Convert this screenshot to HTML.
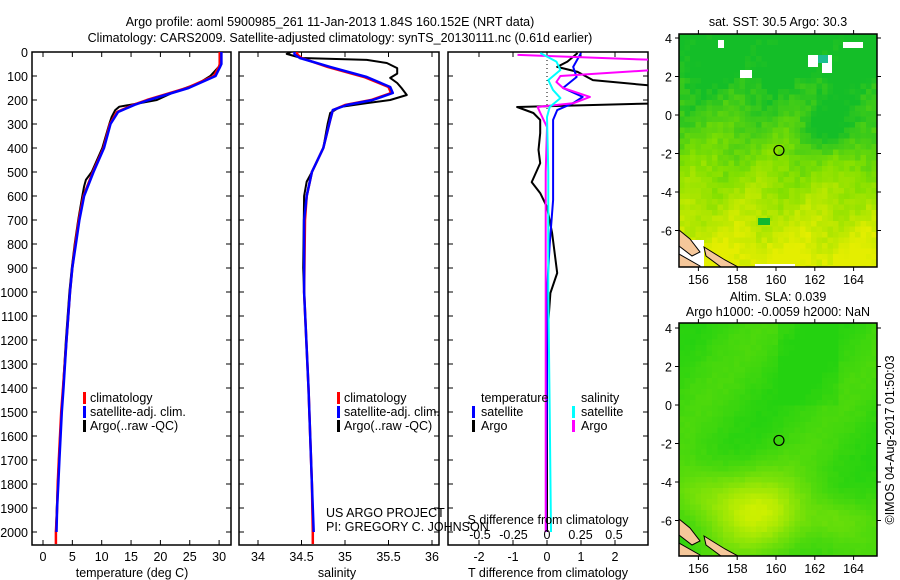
<!DOCTYPE html>
<html><head><meta charset="utf-8">
<style>
html,body{margin:0;padding:0;background:#fff;}
svg{display:block;font-family:"Liberation Sans",sans-serif;}
text{fill:#000;font-size:12.5px;}
</style></head>
<body>
<svg id="fig" width="900" height="580" viewBox="0 0 900 580" xmlns="http://www.w3.org/2000/svg">
<defs>
<clipPath id="c1"><rect x="32" y="52" width="199" height="493"/></clipPath>
<clipPath id="c2"><rect x="239" y="52" width="200" height="493"/></clipPath>
<clipPath id="c3"><rect x="448" y="52" width="200" height="493"/></clipPath>
<clipPath id="cm1"><rect x="679" y="34" width="198" height="233"/></clipPath>
<clipPath id="cm2"><rect x="679" y="323" width="198" height="233"/></clipPath>
</defs>
<text x="330" y="26" text-anchor="middle" font-size="13.5">Argo profile: aoml 5900985_261 11-Jan-2013 1.84S 160.152E (NRT data)</text>
<text x="340" y="42" text-anchor="middle" font-size="13.5">Climatology: CARS2009. Satellite-adjusted climatology: synTS_20130111.nc (0.61d earlier)</text>
<text x="778" y="26" text-anchor="middle">sat. SST: 30.5 Argo: 30.3</text>
<text x="778" y="301" text-anchor="middle">Altim. SLA: 0.039</text>
<text x="778" y="316" text-anchor="middle">Argo h1000: -0.0059 h2000: NaN</text>
<text transform="translate(894,440) rotate(-90)" text-anchor="middle" font-size="12">©IMOS 04-Aug-2017 01:50:03</text>
<g id="maps"></g>
<g id="panels"></g>
</svg>
<script>
// ---- data ----
const tDepth = [0,50,60,100,150,200,220,250,300,400,500,600,700,800,900,1000,1200,1400,1500,1600,1700,1800,1900,2000,2050];
const tClim  = [30.1,30.1,30,29.1,24.5,17.7,15.4,12.6,11.4,10.3,8.5,6.9,6.1,5.5,5.0,4.6,4.0,3.4,3.1,2.9,2.7,2.5,2.4,2.2,2.2];
const tSatDepth = [0,50,60,100,150,200,220,250,300,400,500,600,700,800,900,1000,1200,1400,1500,1600,1700,1800,1900,2000];
const tSat   = [30.4,30.4,30.2,29.4,24.8,18.0,15.6,12.8,11.5,10.4,8.6,7.0,6.2,5.6,5.0,4.6,4.0,3.5,3.2,3.0,2.8,2.6,2.4,2.3];
const tArgoDepth = [0,40,60,100,130,171,200,213,228,242,270,300,400,500,533,560,600,700,800,900,1000,1200,1400,1600,1800,2000];
const tArgo  = [30.3,30.3,30,28.5,26.5,22,19.4,16.5,13,12.3,11.7,11.3,10.1,8.3,7.3,7.0,6.7,6.0,5.4,4.9,4.5,3.9,3.4,2.9,2.5,2.2];
const sDepth = [0,10,25,62,104,146,171,200,221,242,283,400,500,600,700,1000,1400,1600,1800,2000,2050];
const sClim  = [34.45,34.45,34.5,34.8,35.22,35.5,35.53,35.3,35.0,34.86,34.83,34.75,34.62,34.56,34.54,34.53,34.58,34.6,34.62,34.63,34.63];
const sSatDepth = [0,10,25,62,104,146,171,200,221,242,283,400,500,600,700,1000,1400,1600,1800,2000];
const sSat   = [34.42,34.42,34.48,34.83,35.25,35.52,35.55,35.32,35.02,34.86,34.83,34.75,34.62,34.56,34.53,34.53,34.58,34.6,34.62,34.64];
const sArgoDepth = [0,8,15,25,33,46,67,90,108,129,150,179,200,213,229,254,300,400,500,540,600,900,1000,1400,1600,1800,2000];
const sArgo  = [34.38,34.33,34.4,34.5,35.25,35.48,35.6,35.6,35.52,35.6,35.65,35.71,35.52,35.25,34.94,34.83,34.8,34.75,34.62,34.56,34.53,34.52,34.53,34.58,34.6,34.62,34.63];
const dTsatDepth = [4,62,104,150,187,213,242,283,617,800,1000,1400,1800,2000];
const dTsat  = [1.0,0.77,0.87,0.47,1.05,0.77,0.3,0.18,0.18,0.08,0,0,-0.03,-0.03];
const dTargoDepth = [4,40,62,83,117,146,187,213,229,254,283,338,408,463,542,588,646,754,921,1004,1200,1400,1600,1800,2000];
const dTargo = [0.9,0.6,0.3,0.9,1.35,3.5,3.5,3.5,-0.88,-0.4,-0.2,-0.2,-0.25,-0.2,-0.45,-0.2,0,0.15,0.3,0.1,0,0,0,0,0];
const dSsatDepth = [4,40,75,117,158,192,229,271,500,1000,1500,2000];
const dSsat  = [-0.05,0.07,0.1,0.01,0.045,0.1,0.02,0,0.01,0.01,0.02,0.03];
const dSargoDepth = [12,33,75,100,125,150,187,213,229,254,313,500,1000,2000];
const dSargo = [-0.22,0.8,0.8,0.1,0.07,0.12,0.32,0.2,-0.07,-0.05,0,-0.01,-0.01,-0.01];
const depthTicks = [0,100,200,300,400,500,600,700,800,900,1000,1100,1200,1300,1400,1500,1600,1700,1800,1900,2000];
const tTicks = [0,5,10,15,20,25,30];
const sTicks = [34,34.5,35,35.5,36];
const dTTicks = [-2,-1,0,1,2];
const dSTicks = [-0.5,-0.25,0,0.25,0.5];
const latTicks = [4,2,0,-2,-4,-6];
const lonTicks = [156,158,160,162,164];

// ---- scales ----
const NS="http://www.w3.org/2000/svg";
const yD = d => 52 + 0.24*d;
const xT = v => 43 + 5.87*v;
const xS = v => 258 + 87*(v-34);
const xDT = v => 547 + 34*v;
const xDS = v => 547 + 134*v;
const lonX = v => 679 + 19.4*(v-155);
const latY1 = v => 115 - 19.25*v;
const latY2 = v => 405 - 19.25*v;

function el(tag, attrs, parent){const e=document.createElementNS(NS,tag);for(const k in attrs)e.setAttribute(k,attrs[k]);parent.appendChild(e);return e;}
const P=document.getElementById('panels');
const M=document.getElementById('maps');

function line(depths, vals, xf, color, w, clip, name){
  const pts=depths.map((d,i)=>xf(vals[i]).toFixed(1)+','+yD(d).toFixed(1)).join(' ');
  const e=el('polyline',{points:pts,fill:'none',stroke:color,'stroke-width':w,'clip-path':'url(#'+clip+')','stroke-linejoin':'round'},P);
  
  
}
function frame(x0,x1,name){
  const r=el('rect',{x:x0,y:52,width:x1-x0,height:493,fill:'none',stroke:'#000','stroke-width':1.5},P);
  
  
  depthTicks.forEach(d=>{
    el('line',{x1:x0,x2:x0+5,y1:yD(d),y2:yD(d),stroke:'#000'},P);
    el('line',{x1:x1-5,x2:x1,y1:yD(d),y2:yD(d),stroke:'#000'},P);
  });
}
function xticks(ticks,xf,labelY,name,fs){
  ticks.forEach(v=>{
    el('line',{x1:xf(v),x2:xf(v),y1:545,y2:540,stroke:'#000'},P);
    el('line',{x1:xf(v),x2:xf(v),y1:52,y2:57,stroke:'#000'},P);
    const t=el('text',{x:xf(v),y:labelY,'text-anchor':'middle'},P);
    if(fs) t.setAttribute('font-size',fs);
    t.textContent=String(v);
    
    
  });
}
function txt(x,y,s,name,anchor){
  const t=el('text',{x:x,y:y,'text-anchor':anchor||'start'},P);
  t.textContent=s;
  
  
  return t;
}
function legendMark(x,y,color){el('rect',{x:x,y:y-10,width:3,height:12,fill:color},P);}

depthTicks.forEach(d=>{
  const t=el('text',{x:28,y:yD(d)+5,'text-anchor':'end'},P);
  t.textContent=String(d);
  
  
});

frame(32,231,'temperature-panel-frame');
xticks(tTicks,xT,561,'temperature-tick-label');
line(tArgoDepth,tArgo,xT,'#000',2,'c1','argo-temperature-line');
line(tDepth,tClim,xT,'#f00',2.5,'c1','climatology-temperature-line');
line(tSatDepth,tSat,xT,'#00f',2.5,'c1','satellite-temperature-line');
txt(132,577,'temperature (deg C)','temperature-axis-title','middle');
legendMark(83,402,'#f00');txt(90,402,'climatology','legend-climatology');
legendMark(83,416,'#00f');txt(90,416,'satellite-adj. clim.','legend-satellite-adj');
legendMark(83,430,'#000');txt(90,430,'Argo(..raw -QC)','legend-argo');

frame(239,439,'salinity-panel-frame');
xticks(sTicks,xS,561,'salinity-tick-label');
line(sArgoDepth,sArgo,xS,'#000',2,'c2','argo-salinity-line');
line(sDepth,sClim,xS,'#f00',2.5,'c2','climatology-salinity-line');
line(sSatDepth,sSat,xS,'#00f',2.5,'c2','satellite-salinity-line');
txt(337,577,'salinity','salinity-axis-title','middle');
legendMark(337,402,'#f00');txt(344,402,'climatology','legend-climatology-2');
legendMark(337,416,'#00f');txt(344,416,'satellite-adj. clim.','legend-satellite-adj-2');
legendMark(337,430,'#000');txt(344,430,'Argo(..raw -QC)','legend-argo-2');
txt(326,517,'US ARGO PROJECT','us-argo-project-label');
txt(326,531,'PI: GREGORY C. JOHNSON','pi-label');

frame(448,648,'difference-panel-frame');
xticks(dTTicks,xDT,561,'t-diff-tick-label');
el('line',{x1:547,x2:547,y1:60,y2:110,stroke:'#000','stroke-dasharray':'1,3'},P);
line(dTargoDepth,dTargo,xDT,'#000',2,'c3','argo-t-diff-line');
line(dTsatDepth,dTsat,xDT,'#00f',2,'c3','satellite-t-diff-line');
line(dSargoDepth,dSargo,xDS,'#f0f',2,'c3','argo-s-diff-line');
line(dSsatDepth,dSsat,xDS,'#0ff',2,'c3','satellite-s-diff-line');
dSTicks.forEach(v=>{
  const t=el('text',{x:xDS(v),y:539,'text-anchor':'middle'},P);
  t.textContent=String(v);
  
  
});
txt(548,524,'S difference from climatology','s-diff-axis-title','middle');
txt(548,577,'T difference from climatology','t-diff-axis-title','middle');
txt(481,402,'temperature','legend-temperature-heading');
legendMark(472,416,'#00f');txt(481,416,'satellite','legend-t-satellite');
legendMark(472,430,'#000');txt(481,430,'Argo','legend-t-argo');
txt(581,402,'salinity','legend-salinity-heading');
legendMark(572,416,'#0ff');txt(581,416,'satellite','legend-s-satellite');
legendMark(572,430,'#f0f');txt(581,430,'Argo','legend-s-argo');

// ---- maps (imagery texture) ----
function mix(a,b,t){return a.map((v,i)=>Math.round(v+(b[i]-v)*t));}
function hash(i,j){const s=Math.sin(i*127.1+j*311.7)*43758.5453;return s-Math.floor(s);}
function drawMap(top,latY,clip,kind,name){
  const g=el('g',{'clip-path':'url(#'+clip+')'},M);
  
  
  const cs=kind==='sst'?5.5:5.5;
  let i=0;
  for(let y=top;y<top+233;y+=cs){
    i++; let j=0;
    for(let x=679;x<877;x+=cs){
      j++;
      const lat=(top===34?(115-y)/19.25:(405-y)/19.25);
      const lon=155+(x-679)/19.4;
      let c;
      if(kind==='sst'){
        let t=(2.2-lat)/9.5; t=Math.max(0,Math.min(1,t));
        t+=0.16*(hash(i,j)-0.5)+0.08*Math.sin(x*0.09+y*0.05);
        const dx=(lon-163)/1.8, dy=(lat+0.5)/1.5;
        t-=0.3*Math.exp(-(dx*dx+dy*dy));
        if(lat>2) t-=0.08;
        t=Math.max(0,Math.min(1,t));
        c=t<0.5?mix([20,190,40],[130,224,0],t*2):mix([130,224,0],[228,238,0],(t-0.5)*2);
      } else {
        let t=0.12+0.1*Math.sin(x*0.045+y*0.035)+0.05*(hash(i,j)-0.5);
        let dx=(lon-159)/2.5, dy=(lat+5.5)/2;
        t+=0.75*Math.exp(-(dx*dx+dy*dy));
        dx=(lon-156)/2; dy=(lat+4.5)/1.5;
        t+=0.35*Math.exp(-(dx*dx+dy*dy));
        dx=(lon-163)/1.5; dy=(lat+5.8)/1.2;
        t+=0.3*Math.exp(-(dx*dx+dy*dy));
        if(lat>0&&lon>160&&lon<163) t-=0.08;
        t=Math.max(0,Math.min(1,t));
        c=mix([36,210,16],[206,240,0],t);
      }
      el('rect',{x:x,y:y,width:cs+0.5,height:cs+0.5,fill:'rgb('+c.join(',')+')'},g);
    }
  }
  if(kind==='sst'){
    [[718,40,6,8],[740,70,12,8],[808,55,10,12],[843,42,20,6],[822,55,10,18],[755,264,40,10],[679,240,25,30]].forEach(r=>el('rect',{x:r[0],y:r[1],width:r[2],height:r[3],fill:'#fff'},g));
    el('rect',{x:818,y:55,width:10,height:8,fill:'#1cbf90'},g);
    el('rect',{x:758,y:218,width:12,height:7,fill:'#11b830'},g);
  }
  el('polygon',{points:'679,'+(top+220)+' 700,'+(top+232)+' 700,'+(top+245)+' 679,'+(top+245),fill:'#f5c79a',stroke:'#000'},g);
  el('polygon',{points:'704,'+(top+213)+' 725,'+(top+226)+' 738,'+(top+233)+' 725,'+(top+236)+' 706,'+(top+222),fill:'#f5c79a',stroke:'#000'},g);
  el('polygon',{points:'679,'+(top+196)+' 690,'+(top+205)+' 700,'+(top+218)+' 692,'+(top+222)+' 679,'+(top+212),fill:'#f5c79a',stroke:'#000'},g);
  const fr=el('rect',{x:679,y:top,width:198,height:233,fill:'none',stroke:'#000','stroke-width':1.5},M);
  
  
  latTicks.forEach(v=>{
    const y=latY(v);
    el('line',{x1:675,x2:679,y1:y,y2:y,stroke:'#000'},M);
    el('line',{x1:877,x2:881,y1:y,y2:y,stroke:'#000'},M);
    const t=el('text',{x:672,y:y+5,'text-anchor':'end'},M);
    t.textContent=String(v);
    
    
  });
  lonTicks.forEach(v=>{
    const x=lonX(v);
    el('line',{x1:x,x2:x,y1:top+233,y2:top+237,stroke:'#000'},M);
    el('line',{x1:x,x2:x,y1:top-4,y2:top,stroke:'#000'},M);
    const t=el('text',{x:x,y:top+250,'text-anchor':'middle'},M);
    t.textContent=String(v);
    
    
  });
  const m=el('circle',{cx:lonX(160.152),cy:latY(-1.84),r:5,fill:'none',stroke:'#000','stroke-width':1.2},M);
  
  
}
drawMap(34,latY1,'cm1','sst','sst-map');
drawMap(323,latY2,'cm2','sla','sla-map');
</script>
</body></html>
